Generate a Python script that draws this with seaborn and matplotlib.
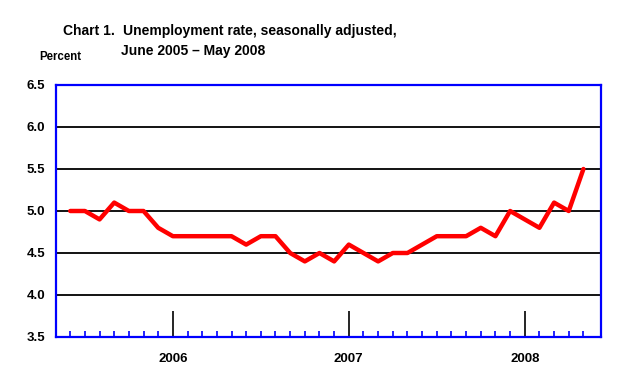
import numpy as np
import pandas as pd
import matplotlib
matplotlib.use("Agg")
import matplotlib.pyplot as plt
import seaborn as sns

# Data: monthly unemployment rate, June 2005 - May 2008
months = pd.date_range("2005-06-01", "2008-05-01", freq="MS")
rate = [5.0, 5.0, 4.9, 5.1, 5.0, 5.0, 4.8,
        4.7, 4.7, 4.7, 4.7, 4.7, 4.6, 4.7, 4.7, 4.5, 4.4, 4.5, 4.4,
        4.6, 4.5, 4.4, 4.5, 4.5, 4.6, 4.7, 4.7, 4.7, 4.8, 4.7, 5.0,
        4.9, 4.8, 5.1, 5.0, 5.5]
year_labels = ["2006", "2007", "2008"]
y_ticks = [3.5, 4.0, 4.5, 5.0, 5.5, 6.0, 6.5]

df = pd.DataFrame({"idx": np.arange(len(rate)), "rate": rate})

sns.set_style("white")
plt.rcParams["font.family"] = ["Liberation Sans", "DejaVu Sans"]
plt.rcParams["text.color"] = "black"
plt.rcParams["xtick.color"] = "black"
plt.rcParams["ytick.color"] = "black"

fig = plt.figure(figsize=(6.2, 3.82), dpi=100)
ax = fig.add_axes([56 / 620, 45 / 382, 545 / 620, 252 / 382])

sns.lineplot(data=df, x="idx", y="rate", color="#ff0000", linewidth=3.2, ax=ax)

ax.set_xlim(-0.97, 36.2)
ax.set_ylim(3.5, 6.5)

# y axis
ax.set_yticks(y_ticks)
ax.set_yticklabels([f"{v:.1f}" for v in y_ticks], fontsize=9.5, fontweight="bold")
ax.tick_params(axis="y", left=False, length=0, pad=8)
for v in y_ticks[1:-1]:
    ax.axhline(v, color="black", linewidth=1.3, zorder=1)

# x axis: year ticks at January, small ticks every month
jan_idx = [i for i, m in enumerate(months) if m.month == 1]
ax.set_xticks(jan_idx)
ax.set_xticklabels(year_labels, fontsize=9.5, fontweight="bold")
ax.set_xticks(np.arange(len(months)), minor=True)
ax.tick_params(axis="x", which="major", bottom=True, direction="in", length=19,
               width=1.2, color="black", pad=11.5)
ax.tick_params(axis="x", which="minor", bottom=True, direction="in", length=4,
               width=1.2, color="#0000ff")
ax.set_xlabel("")
ax.set_ylabel("")

for s in ax.spines.values():
    s.set_visible(True)
    s.set_color("#0000ff")
    s.set_linewidth(1.6)

# titles
fig.text(63 / 620, 1 - 31 / 382, "Chart 1.", fontsize=10, fontweight="bold", va="center")
fig.text(123 / 620, 1 - 31 / 382, "Unemployment rate, seasonally adjusted,",
         fontsize=10, fontweight="bold", va="center")
fig.text(121 / 620, 1 - 51 / 382, "June 2005 \u2013 May 2008", fontsize=10,
         fontweight="bold", va="center")
fig.text(39 / 620, 1 - 57 / 382, "Percent", fontsize=8.3, fontweight="bold", va="center")

fig.savefig("out.png", dpi=100)
